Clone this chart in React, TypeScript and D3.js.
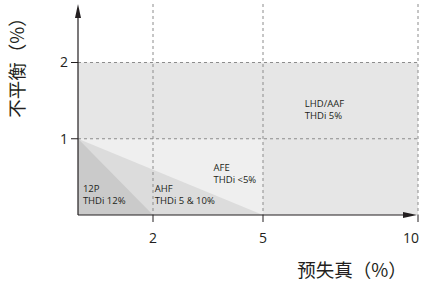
import React from "react";
import * as d3 from "d3";

const xTicks = [2, 5, 10];
const yTicks = [1, 2];
const xTitle = "预失真（%）";
const yTitle = "不平衡（%）";

// regions: polygons in data units (distortion %, imbalance %)
const regionNames = ["LHD/AAF", "AFE", "AHF", "12P"];
const regionFills = ["#e6e6e6", "#efefef", "#dcdcdc", "#cacaca"];
const regionPolys: [number, number][][] = [
  [[0, 0], [0, 2], [10, 2], [10, 0]],
  [[0, 0], [0, 1], [5, 1], [5, 0]],
  [[0, 0], [0, 1], [5, 0]],
  [[0, 0], [0, 1], [2, 0]],
];
const labelLines = [
  ["LHD/AAF", "THDi 5%"],
  ["AFE", "THDi <5%"],
  ["AHF", "THDi 5 & 10%"],
  ["12P", "THDi 12%"],
];
const labelPos: [number, number][] = [
  [6.35, 1.42],
  [3.65, 0.58],
  [2.05, 0.3],
  [0.13, 0.3],
];

export default function App() {
  const W = 421, H = 284;
  const x = d3.scaleLinear().domain([0, 2, 5, 10]).range([78, 153, 263, 418]);
  const y = d3.scaleLinear().domain([0, 2]).range([215, 62.5]);
  const yTop = 4;
  const line = d3.line<[number, number]>().x(d => x(d[0])).y(d => y(d[1]));
  const textCol = "#231f20";
  const gridCol = "#8c8c8c";
  const labFont = "'Open Sans', 'Noto Sans', sans-serif";
  return (
    <svg width={W} height={H} style={{ position: "absolute", left: 0, top: 0, background: "#fff" }}>
      {regionPolys.map((p, i) => (
        <path key={regionNames[i]} d={line(p)! + "Z"} fill={regionFills[i]} />
      ))}
      {yTicks.map(t => (
        <line key={"gy" + t} x1={x(0)} x2={x(10)} y1={y(t)} y2={y(t)} stroke={gridCol} strokeWidth={1} strokeDasharray="3,3" />
      ))}
      {xTicks.map(t => (
        <line key={"gx" + t} x1={x(t)} x2={x(t)} y1={yTop} y2={y(0)} stroke={gridCol} strokeWidth={1} strokeDasharray="3,3" />
      ))}
      {labelLines.map((ls, i) => (
        <text key={"l" + i} x={x(labelPos[i][0])} y={y(labelPos[i][1])} fontFamily={labFont} fontSize={9.5} fill={textCol}>
          {ls.map((s, j) => (
            <tspan key={j} x={x(labelPos[i][0])} dy={j === 0 ? 0 : 12}>{s}</tspan>
          ))}
        </text>
      ))}
      {/* axes */}
      <line x1={x(0)} x2={x(0)} y1={y(0)} y2={yTop + 8} stroke={textCol} strokeWidth={1.2} />
      <path d={`M${x(0)},${yTop} L${x(0) - 3},${yTop + 14} L${x(0) + 3},${yTop + 14} Z`} fill={textCol} />
      <line x1={x(0)} x2={x(10) - 8} y1={y(0)} y2={y(0)} stroke={textCol} strokeWidth={1.2} />
      <path d={`M${x(10) - 1},${y(0)} L${x(10) - 15},${y(0) - 3} L${x(10) - 15},${y(0) + 3} Z`} fill={textCol} />
      {yTicks.map(t => (
        <g key={"ty" + t}>
          <line x1={x(0) - 7} x2={x(0)} y1={y(t)} y2={y(t)} stroke={textCol} strokeWidth={1} />
          <text x={x(0) - 10} y={y(t)} dy="0.35em" textAnchor="end" fontFamily={labFont} fontSize={14} fill={textCol}>{t}</text>
        </g>
      ))}
      {xTicks.map(t => (
        <g key={"tx" + t}>
          <line x1={x(t)} x2={x(t)} y1={y(0)} y2={y(0) + 7} stroke={textCol} strokeWidth={1} />
          <text x={t === 10 ? x(t) - 7 : x(t)} y={y(0) + 28} textAnchor="middle" fontFamily={labFont} fontSize={14} fill={textCol}>{t}</text>
        </g>
      ))}
      <text x={352} y={277} textAnchor="middle" fontFamily="'Noto Sans CJK SC', sans-serif" fontSize={18.5} fill={textCol}>{xTitle}</text>
      <text transform="translate(24,63) rotate(-90)" textAnchor="middle" fontFamily="'Noto Sans CJK SC', sans-serif" fontSize={18.5} fill={textCol}>{yTitle}</text>
    </svg>
  );
}
